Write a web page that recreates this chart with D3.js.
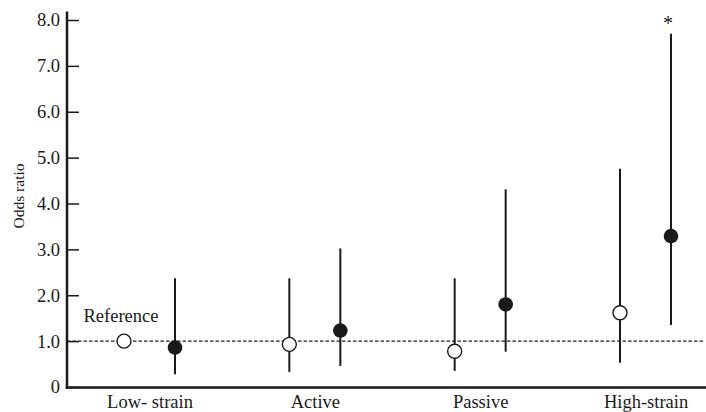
<!DOCTYPE html>
<html>
<head>
<meta charset="utf-8">
<script src="https://cdn.jsdelivr.net/npm/d3@7"></script>
<style>
  html, body { margin: 0; padding: 0; background: #fff; }
  svg { display: block; }
  text { font-family: "Liberation Serif", "Times New Roman", serif; fill: #1a1a1a; }
</style>
</head>
<body>
<svg id="chart" width="706" height="412"></svg>
<script>
// ---- data ----
const categories = ["Low- strain", "Active", "Passive", "High-strain"];
const openOR   = [1.00, 0.93, 0.78, 1.62];
const openLo   = [null, 0.33, 0.35, 0.53];
const openHi   = [null, 2.37, 2.37, 4.76];
const filledOR = [0.86, 1.23, 1.80, 3.29];
const filledLo = [0.28, 0.46, 0.77, 1.35];
const filledHi = [2.37, 3.02, 4.31, 7.70];
const yTicks = [0, 1, 2, 3, 4, 5, 6, 7, 8];
const referenceValue = 1.0;
const significant = [false, false, false, true];

// ---- layout ----
const svg = d3.select("#chart");
const axisX = 67, axisBottomY = 387.5, rightEdge = 706;

const y = d3.scaleLinear().domain([0, 8]).range([387, 20]);
const x = d3.scalePoint().domain(categories).range([149.5, 645.5]);
const off = 25.5;

// reference dashed line
svg.append("line")
  .attr("x1", axisX).attr("x2", 703)
  .attr("y1", y(referenceValue)).attr("y2", y(referenceValue))
  .attr("stroke", "#222").attr("stroke-width", 1.1)
  .attr("stroke-dasharray", "3.5,2");

// y axis
const yAxis = d3.axisLeft(y).tickValues(yTicks).tickSize(-12).tickPadding(7)
  .tickFormat(d => d === 0 ? "0" : d.toFixed(1));
const gy = svg.append("g").attr("transform", `translate(${axisX},0)`).call(yAxis);
gy.select(".domain").remove();
gy.selectAll(".tick line").attr("stroke", "#1a1a1a").attr("stroke-width", 1.5);
gy.selectAll(".tick text").attr("font-size", 18.5).attr("font-family", "Liberation Serif").attr("fill", "#1a1a1a");
svg.append("line").attr("x1", axisX).attr("x2", axisX)
  .attr("y1", 11.5).attr("y2", axisBottomY + 1.5)
  .attr("stroke", "#1a1a1a").attr("stroke-width", 2.5);

// x axis
const xAxis = d3.axisBottom(x).tickSize(0).tickPadding(7);
const gx = svg.append("g").attr("transform", `translate(0,${axisBottomY})`).call(xAxis);
gx.select(".domain").remove();
gx.selectAll(".tick text").attr("font-size", 18.5).attr("font-family", "Liberation Serif").attr("fill", "#1a1a1a");
svg.append("line").attr("x1", axisX - 1.25).attr("x2", rightEdge)
  .attr("y1", axisBottomY).attr("y2", axisBottomY)
  .attr("stroke", "#1a1a1a").attr("stroke-width", 2.5);

// y label
svg.append("text")
  .attr("transform", `translate(24,196) rotate(-90)`)
  .attr("text-anchor", "middle")
  .attr("font-size", 15.5)
  .text("Odds ratio");

// error bars
categories.forEach((c, i) => {
  if (openLo[i] != null) {
    svg.append("line")
      .attr("x1", x(c) - off).attr("x2", x(c) - off)
      .attr("y1", y(openLo[i])).attr("y2", y(openHi[i]))
      .attr("stroke", "#1a1a1a").attr("stroke-width", 2);
  }
  svg.append("line")
    .attr("x1", x(c) + off).attr("x2", x(c) + off)
    .attr("y1", y(filledLo[i])).attr("y2", y(filledHi[i]))
    .attr("stroke", "#1a1a1a").attr("stroke-width", 2);
});

// points
svg.selectAll("circle.open").data(categories).enter().append("circle")
  .attr("class", "open")
  .attr("cx", c => x(c) - off)
  .attr("cy", (c, i) => y(openOR[i]))
  .attr("r", 7)
  .attr("fill", "#fff").attr("stroke", "#1a1a1a").attr("stroke-width", 1.4);

svg.selectAll("circle.filled").data(categories).enter().append("circle")
  .attr("class", "filled")
  .attr("cx", c => x(c) + off)
  .attr("cy", (c, i) => y(filledOR[i]))
  .attr("r", 7.3)
  .attr("fill", "#1a1a1a");

// reference label
svg.append("text")
  .attr("x", x(categories[0]) - off - 3).attr("y", 322)
  .attr("text-anchor", "middle")
  .attr("font-size", 18.5)
  .text("Reference");

// significance marker
categories.forEach((c, i) => {
  if (significant[i]) {
    svg.append("text")
      .attr("x", x(c) + off - 3).attr("y", y(filledHi[i]) - 4)
      .attr("text-anchor", "middle")
      .attr("font-size", 20)
      .text("*");
  }
});
</script>
</body>
</html>
